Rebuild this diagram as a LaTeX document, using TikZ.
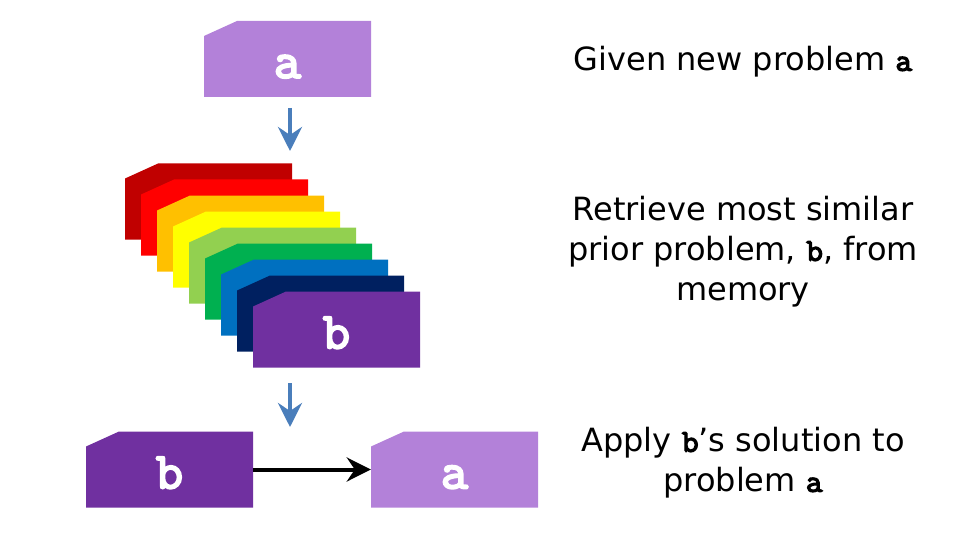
\documentclass[tikz,border=0pt]{standalone}
\usepackage{fontspec}
\setmainfont{DejaVu Sans}
\newfontfamily\cmonob{lmmono10-regular.otf}[FakeBold=3.5]
\usetikzlibrary{arrows.meta}
\definecolor{lilac}{HTML}{B381D9}
\definecolor{deeppurple}{HTML}{7030A0}
\definecolor{arrowblue}{HTML}{4A7EBB}
\definecolor{cA}{HTML}{C00000}
\definecolor{cB}{HTML}{FF0000}
\definecolor{cC}{HTML}{FFC000}
\definecolor{cD}{HTML}{FFFF00}
\definecolor{cE}{HTML}{92D050}
\definecolor{cF}{HTML}{00B050}
\definecolor{cG}{HTML}{0070C0}
\definecolor{cH}{HTML}{002060}
\tikzset{
  card/.style={rectangle, minimum width=167pt, minimum height=76pt, inner sep=0pt, draw=none,
    text height=38pt, text depth=0pt,
    text=white, font=\cmonob\fontsize{52}{52}\selectfont,
    path picture={\fill[#1]
      ([yshift=-15pt]path picture bounding box.north west) --
      ([xshift=33pt]path picture bounding box.north west) --
      (path picture bounding box.north east) --
      (path picture bounding box.south east) --
      (path picture bounding box.south west) -- cycle;}},
  flowarrow/.style={draw=arrowblue, line width=4pt,
    -{Stealth[length=24pt,width=24pt,inset=8pt]}},
  applyarrow/.style={draw=black, line width=4pt,
    -{Stealth[length=24pt,width=24pt,inset=8pt]}},
  caption/.style={align=center, font=\fontsize{32}{40}\selectfont, text=black}
}
\newcommand{\cw}[1]{{\cmonob #1}}
\begin{document}
\begin{tikzpicture}[x=1pt,y=-1pt]
\useasboundingbox (0,0) rectangle (960,540);
% top
\node[card=lilac] (atop) at (287.5,59) {a};
% stack
\foreach \c [count=\i from 0] in {cA,cB,cC,cD,cE,cF,cG,cH}{
  \node[card=\c] (s\i) at (208.5+16*\i,201.5+16*\i) {};
}
\node[card=deeppurple] (bstack) at (336.5,329.5) {b};
% bottom
\node[card=deeppurple] (bbot) at (169.5,469.5) {b};
\node[card=lilac] (abot) at (454.5,469.5) {a};
% arrows
\coordinate (u1) at (290,108);
\coordinate (u2) at (290,151);
\coordinate (v1) at (290,383);
\coordinate (v2) at (290,427);
\draw[flowarrow] (u1) -- (u2);
\draw[flowarrow] (v1) -- (v2);
\draw[applyarrow] (bbot.east) -- (abot.west);
% captions
\node[caption] (t1) at (743,62) {Given new problem \cw{a}};
\node[caption] (t2) at (743,252) {Retrieve most similar\\prior problem, \cw{b}, from\\memory};
\node[caption] (t3) at (743,463) {Apply \cw{b}’s solution to\\problem \cw{a}};
\end{tikzpicture}
\end{document}
